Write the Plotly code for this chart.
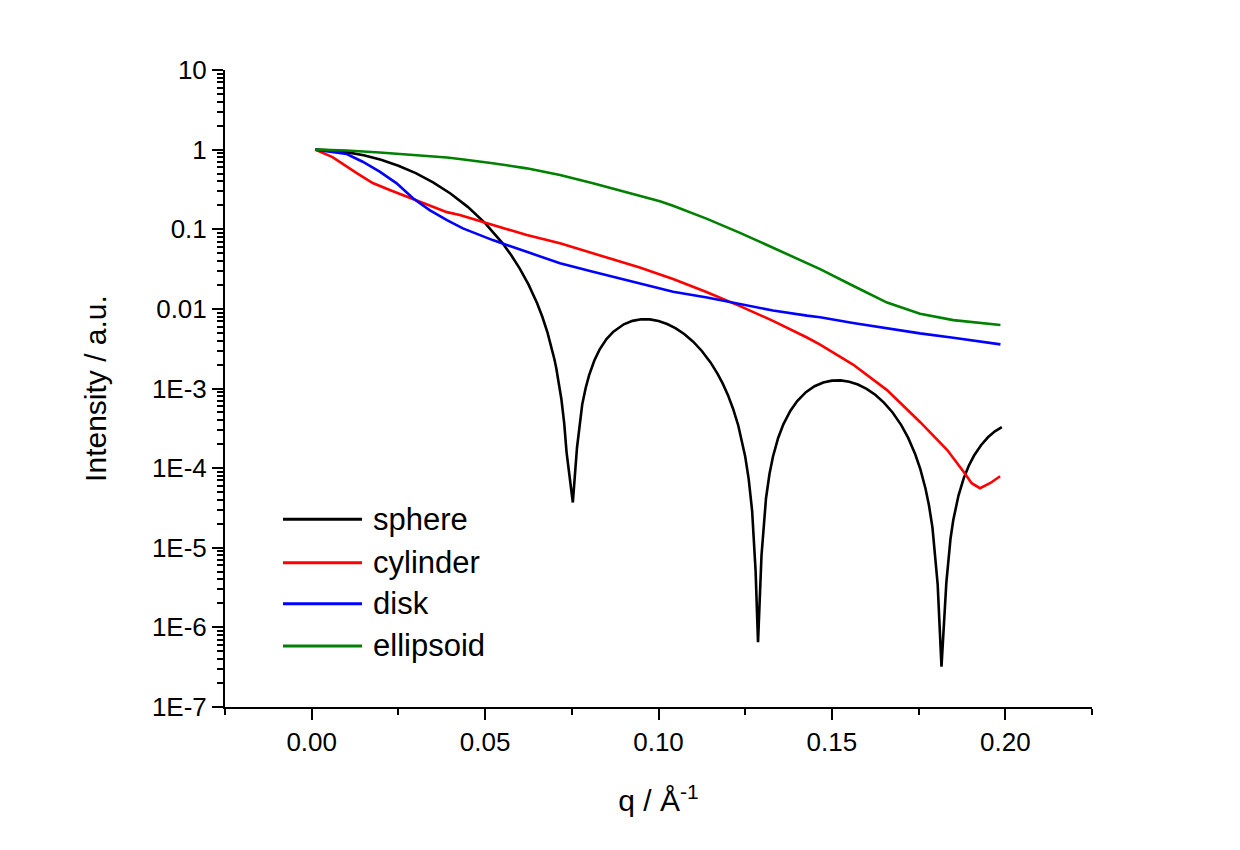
import plotly.graph_objects as go

# ---------------- data ----------------
sphere_q = [0.001, 0.005, 0.01, 0.015, 0.02, 0.025, 0.03, 0.035, 0.04, 0.045,
            0.05, 0.055, 0.0575, 0.06, 0.0625, 0.065, 0.0665, 0.068, 0.07, 0.0705,
            0.072, 0.0728, 0.0735, 0.0753, 0.0765, 0.0772, 0.078, 0.079, 0.08, 0.0815,
            0.083, 0.085, 0.087, 0.09, 0.0925, 0.095, 0.0975, 0.1, 0.1025, 0.105,
            0.1075, 0.11, 0.1125, 0.115, 0.117, 0.1185, 0.12, 0.1215, 0.123, 0.125,
            0.126, 0.127, 0.128, 0.1287, 0.1297, 0.131, 0.132, 0.133, 0.1345, 0.136,
            0.138, 0.14, 0.1425, 0.145, 0.1475, 0.15, 0.1525, 0.155, 0.1575, 0.16,
            0.1625, 0.165, 0.1675, 0.17, 0.172, 0.174, 0.1755, 0.177, 0.178, 0.179,
            0.1805, 0.1816, 0.183, 0.1842, 0.185, 0.1865, 0.188, 0.1895, 0.191, 0.193,
            0.195, 0.197, 0.199]
sphere_I = [0.99928, 0.98214, 0.93018, 0.84881, 0.74513, 0.62781, 0.50598, 0.38820, 0.28158, 0.19113,
            0.11949, 0.06701, 0.047513, 0.032087, 0.020317, 0.01175, 7.952e-3, 5.0315e-3, 2.3122e-3, 1.8263e-3,
            7.327e-4, 3.697e-4, 1.566e-4, 3.7e-5, 1.804e-4, 3.556e-4, 6.28e-4, 1.014e-3, 1.4758e-3, 2.2513e-3,
            3.0749e-3, 4.171e-3, 5.182e-3, 6.403e-3, 7.074e-3, 7.395e-3, 7.371e-3, 7.038e-3, 6.4524e-3, 5.681e-3,
            4.7958e-3, 3.868e-3, 2.9603e-3, 2.127e-3, 1.5408e-3, 1.1597e-3, 8.309e-4, 5.578e-4, 3.431e-4, 1.3965e-4,
            7.326e-5, 2.892e-5, 5.1e-6, 6.5e-7, 8.0e-6, 4.186e-5, 8.428e-5, 1.389e-4, 2.3911e-4, 3.55e-4,
            5.234e-4, 6.972e-4, 8.995e-4, 1.0688e-3, 1.1911e-3, 1.256e-3, 1.2639e-3, 1.216e-3, 1.1218e-3, 9.899e-4,
            8.335e-4, 6.658e-4, 4.998e-4, 3.466e-4, 2.398e-4, 1.505e-4, 9.725e-5, 5.505e-5, 3.386e-5, 1.791e-5,
            3.47e-6, 3.2e-7, 3.64e-6, 1.2988e-5, 2.2276e-5, 4.524e-5, 7.44e-5, 1.0783e-4, 1.4395e-4, 1.9421e-4,
            2.4398e-4, 2.8944e-4, 3.2696e-4]

cylinder_q = [0.001, 0.006, 0.013, 0.0176, 0.0225, 0.0312, 0.039, 0.0427, 0.0522, 0.062,
              0.0716, 0.0811, 0.0909, 0.0946, 0.1042, 0.114, 0.1235, 0.133, 0.1428, 0.1466,
              0.1561, 0.1659, 0.1754, 0.1832, 0.1884, 0.1903, 0.1927, 0.1956, 0.1985]
cylinder_I = [1.0, 0.807, 0.508, 0.381, 0.311, 0.220, 0.164, 0.151, 0.113, 0.0845,
              0.0665, 0.0498, 0.0372, 0.0331, 0.0237, 0.0162, 0.01084, 0.00708, 0.00437, 0.00355,
              0.00200, 9.55e-4, 3.80e-4, 1.70e-4, 8.5e-5, 6.46e-5, 5.6e-5, 6.46e-5, 7.9e-5]

disk_q = [0.001, 0.0101, 0.0147, 0.0196, 0.0245, 0.0292, 0.034, 0.039, 0.0436, 0.0485,
          0.0522, 0.062, 0.0716, 0.0811, 0.0946, 0.1042, 0.114, 0.1235, 0.133, 0.1428,
          0.1466, 0.1561, 0.1659, 0.1754, 0.185, 0.1986]
disk_I = [1.0, 0.881, 0.705, 0.528, 0.377, 0.245, 0.174, 0.130, 0.1026, 0.0845,
          0.0731, 0.0521, 0.0373, 0.0292, 0.0209, 0.0164, 0.0139, 0.01148, 0.00955, 0.00822,
          0.00785, 0.00665, 0.00569, 0.00492, 0.00433, 0.00358]

ellipsoid_q = [0.001, 0.0101, 0.0196, 0.0291, 0.039, 0.0427, 0.0485, 0.0522, 0.062, 0.0716,
               0.0811, 0.0909, 0.1004, 0.1042, 0.114, 0.1235, 0.133, 0.1428, 0.1466, 0.1561,
               0.1659, 0.1754, 0.185, 0.1986]
ellipsoid_I = [1.0, 0.973, 0.920, 0.863, 0.798, 0.762, 0.711, 0.676, 0.582, 0.480,
               0.377, 0.292, 0.224, 0.197, 0.135, 0.0902, 0.0582, 0.0372, 0.0316, 0.0195,
               0.0120, 0.0087, 0.00723, 0.00626]

series_names = ["sphere", "cylinder", "disk", "ellipsoid"]
series_colors = ["#000000", "#FF0000", "#0000FF", "#008000"]

x_tickvals = [0.0, 0.05, 0.10, 0.15, 0.20]
x_ticktext = ["0.00", "0.05", "0.10", "0.15", "0.20"]
x_minorvals = [-0.025, 0.025, 0.075, 0.125, 0.175, 0.225]
y_tickvals = [10, 1, 0.1, 0.01, 1e-3, 1e-4, 1e-5, 1e-6, 1e-7]
y_ticktext = ["10", "1", "0.1", "0.01", "1E-3", "1E-4", "1E-5", "1E-6", "1E-7"]

# ---------------- figure ----------------
FONT = "Arial, Liberation Sans, sans-serif"
xs = [sphere_q, cylinder_q, disk_q, ellipsoid_q]
ys = [sphere_I, cylinder_I, disk_I, ellipsoid_I]

fig = go.Figure()
for q, I, name, col in zip(xs, ys, series_names, series_colors):
    fig.add_trace(go.Scatter(x=q, y=I, mode="lines", name=name,
                             line=dict(color=col, width=2.6), showlegend=False))

# manual legend (long line samples like the reference)
leg_rows = [0.2947, 0.2265, 0.1622, 0.0958]
for yrow, name, col in zip(leg_rows, series_names, series_colors):
    fig.add_shape(type="line", xref="paper", yref="paper",
                  x0=0.0669, x1=0.158, y0=yrow, y1=yrow,
                  line=dict(color=col, width=3))
    fig.add_annotation(xref="paper", yref="paper", x=0.1684, y=yrow,
                       text=name, showarrow=False, xanchor="left", yanchor="middle",
                       font=dict(family=FONT, size=31, color="black"))

y_minor = [m * 10.0 ** e for e in range(-7, 1) for m in range(2, 10)]

axis_common = dict(showline=True, linecolor="black", linewidth=2, mirror=False,
                   ticks="outside", ticklen=11, tickwidth=2, tickcolor="black",
                   showgrid=False, zeroline=False,
                   tickfont=dict(family=FONT, size=26, color="black"))

fig.update_layout(
    width=1240, height=850, autosize=False,
    margin=dict(l=225, r=148, t=70, b=143),
    paper_bgcolor="white", plot_bgcolor="white",
    font=dict(family=FONT, color="black"),
    xaxis=dict(range=[-0.025, 0.225], tickmode="array", tickvals=x_tickvals, ticktext=x_ticktext,
               minor=dict(tickmode="array", tickvals=x_minorvals, ticks="outside", ticklen=6,
                          tickwidth=2, tickcolor="black", showgrid=False),
               title=dict(text="q / Å<sup>-1</sup>", font=dict(family=FONT, size=30), standoff=34),
               **axis_common),
    yaxis=dict(type="log", range=[-7, 1], tickmode="array", tickvals=y_tickvals, ticktext=y_ticktext,
               minor=dict(tickmode="array", tickvals=y_minor, ticks="outside", ticklen=6,
                          tickwidth=2, tickcolor="black", showgrid=False),
               title=dict(text="Intensity / a.u.", font=dict(family=FONT, size=30), standoff=36),
               **axis_common),
)

fig.write_html("out.html")
